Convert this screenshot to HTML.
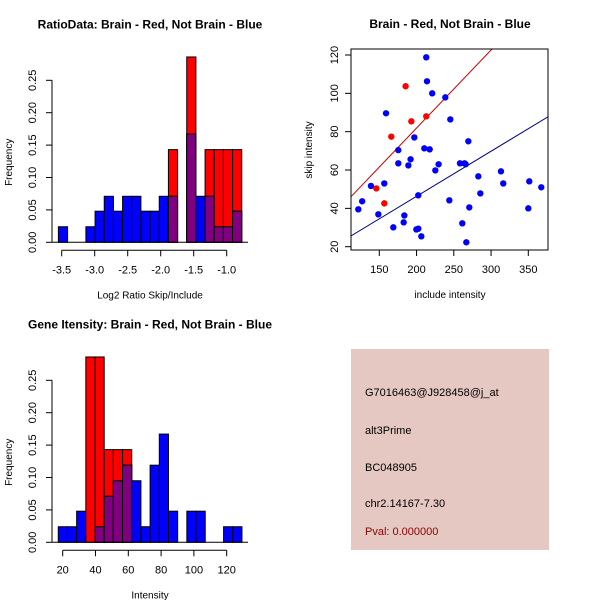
<!DOCTYPE html>
<html><head><meta charset="utf-8"><style>
html,body{margin:0;padding:0;background:#fff}
svg{display:block;font-family:"Liberation Sans",sans-serif}
</style></head><body>
<svg id="s" width="600" height="600" viewBox="0 0 600 600" xmlns="http://www.w3.org/2000/svg">
<rect x="0" y="0" width="600" height="600" fill="#fff"/>
<g>
<rect x="351" y="349" width="198" height="201" fill="#e6c8c2"/>
<text x="365" y="396" font-size="11" fill="#000">G7016463@J928458@j_at</text>
<text x="365" y="434" font-size="11" fill="#000">alt3Prime</text>
<text x="365" y="471" font-size="11" fill="#000">BC048905</text>
<text x="365" y="507" font-size="11" fill="#000">chr2.14167-7.30</text>
<text x="365" y="535" font-size="11" fill="#8b0000">Pval: 0.000000</text>
</g>
</svg>
<script>
// Ratio histogram data
const ratioBinStart = -3.55;
const ratioBinWidth = 0.1389;
const ratioBlue = [0.024,0,0,0.024,0.048,0.071,0.048,0.071,0.071,0.048,0.048,0.071,0.071,0,0.167,0.071,0.071,0.024,0.024,0.048];
const ratioRed  = [0,0,0,0,0,0,0,0,0,0,0,0,0.143,0,0.286,0,0.143,0.143,0.143,0.143];
const ratioXTicks = [-3.5,-3.0,-2.5,-2.0,-1.5,-1.0];
const ratioXLabels = ["-3.5","-3.0","-2.5","-2.0","-1.5","-1.0"];
// Intensity histogram data
const intBinStart = 17.3;
const intBinWidth = 5.6;
const intBlue = [0.024,0.024,0.048,0,0.024,0.071,0.095,0.119,0.095,0.024,0.119,0.167,0.048,0,0.048,0.048,0,0,0.024,0.024];
const intRed  = [0,0,0,0.286,0.286,0.143,0.143,0.143,0,0,0,0,0,0,0,0,0,0,0,0];
const intXTicks = [20,40,60,80,100,120];
const freqTicks = [0,0.05,0.10,0.15,0.20,0.25];
const freqLabels = ["0.00","0.05","0.10","0.15","0.20","0.25"];
// Scatter data
const blueX = [121.8,127,138.8,148.7,156.7,159,168.8,175.5,175.5,182.7,183.6,189,192,197,199.7,202.3,202.3,206.4,210.4,213,214,217.6,221,225.2,229.6,238.6,244,245.3,258.3,261.4,264.5,265.9,266.8,269.5,270.8,282.9,285.6,313.3,316.4,350,351.3,367.4];
const blueY = [39.5,43.7,51.7,36.9,53,89.6,30.1,70.4,63.5,32.7,36.3,62.4,65.6,77,29,29.4,46.8,25.4,71.3,118.8,106.3,70.8,100,59.8,63,97.9,44.2,86.4,63.5,32.2,63.5,63,22.3,75,40.5,56.7,47.8,59.3,53,40,54.1,51];
const redX = [146,156.7,166.1,185.3,193,213];
const redY = [50.4,42.6,77.4,103.7,85.4,88];
const lineSlopes = [0.407,0.235];
const lineIntercepts = [0.5,-0.7];
const scatXTicks = [150,200,250,300,350];
const scatYTicks = [20,40,60,80,100,120];

const NS="http://www.w3.org/2000/svg";
const svg=document.getElementById('s');
function mk(tag,attrs,parent){const e=document.createElementNS(NS,tag);for(const k in attrs)e.setAttribute(k,attrs[k]);(parent||svg).appendChild(e);return e;}
function txt(x,y,s,attrs,parent){const e=mk('text',Object.assign({x:x,y:y,'font-size':11,'text-anchor':'middle',fill:'#000'},attrs||{}),parent);e.textContent=s;return e;}

function histogram(name,oy,binStart,binW,red,blue,xTicks,xLabels,xpx0,xval0,pxPerUnit,title,xlabel){
  const g=mk('g',{});
  
  
  const X=v=>xpx0+(v-xval0)*pxPerUnit;
  const Y=v=>oy-v*648;
  for(let i=0;i<red.length;i++){
    const x0=X(binStart+i*binW),x1=X(binStart+(i+1)*binW);
    const r=red[i],b=blue[i];
    const draw=(h,c,n)=>{const e=mk('rect',{x:x0,y:Y(h),width:x1-x0,height:oy-Y(h),fill:c,stroke:'#000','stroke-width':1},g);
      
      };
    if(r>0) draw(r,'#ff0000','bar-red-'+i);
    if(b>0) draw(b,'#0000ff','bar-blue-'+i);
    if(r>0&&b>0) draw(Math.min(r,b),'#800080','bar-overlap-'+i);
  }
  mk('line',{x1:52,x2:52,y1:Y(0),y2:Y(0.25),stroke:'#000'},g);
  freqTicks.forEach((t,i)=>{mk('line',{x1:46,x2:52,y1:Y(t),y2:Y(t),stroke:'#000'},g);
    const l=txt(36,Y(t),freqLabels[i],{transform:`rotate(-90 36 ${Y(t)})`},g);
    
    });
  mk('line',{x1:52,x2:248,y1:oy,y2:oy,stroke:'#000'},g);
  const ax=oy+8;
  mk('line',{x1:X(xTicks[0]),x2:X(xTicks[xTicks.length-1]),y1:ax,y2:ax,stroke:'#000'},g);
  xTicks.forEach((t,i)=>{mk('line',{x1:X(t),x2:X(t),y1:ax,y2:ax+6,stroke:'#000'},g);
    const l=txt(X(t),ax+23,xLabels[i],{},g);
    
    });
  const t=txt(150,oy-214,title,{'font-weight':'bold','font-size':12},g);
  
  
  const xl=txt(150,oy+56,xlabel,{'font-size':10},g);
  
  
  const yl=txt(12,oy-80,'Frequency',{'font-size':10,transform:`rotate(-90 12 ${oy-80})`},g);
  
  
}
histogram('ratio-histogram',242.3,ratioBinStart,ratioBinWidth,ratioRed,ratioBlue,ratioXTicks,ratioXLabels,61.7,-3.5,66,'RatioData: Brain - Red, Not Brain - Blue','Log2 Ratio Skip/Include');
histogram('intensity-histogram',542.3,intBinStart,intBinWidth,intRed,intBlue,intXTicks,intXTicks.map(String),62.7,20,1.64,'Gene Itensity: Brain - Red, Not Brain - Blue','Intensity');

(function(){
  const g=mk('g',{});
  
  
  const L=351,R=548,T=49,B=250;
  const X=v=>379.3+(v-150)*0.745;
  const Y=v=>55+(120-v)*1.917;
  const cp=mk('clipPath',{id:'clip'},g);mk('rect',{x:L,y:T,width:R-L,height:B-T},cp);
  const cols=['#cc0000','#00008b'];
  lineSlopes.forEach((s,i)=>{const x0=100,x1=400;
    const e=mk('line',{x1:X(x0),y1:Y(lineIntercepts[i]+s*x0),x2:X(x1),y2:Y(lineIntercepts[i]+s*x1),stroke:cols[i],'stroke-width':1,'clip-path':'url(#clip)'},g);
    
    });
  blueX.forEach((x,i)=>{const c=mk('circle',{cx:X(x),cy:Y(blueY[i]),r:3.2,fill:'#0000ff'},g);
    
    });
  redX.forEach((x,i)=>{const c=mk('circle',{cx:X(x),cy:Y(redY[i]),r:3.2,fill:'#ff0000'},g);
    
    });
  mk('rect',{x:L,y:T,width:R-L,height:B-T,fill:'none',stroke:'#000'},g);
  scatXTicks.forEach(t=>{mk('line',{x1:X(t),x2:X(t),y1:B,y2:B+6,stroke:'#000'},g);
    const l=txt(X(t),B+23,String(t),{},g);
    
    });
  scatYTicks.forEach(t=>{mk('line',{x1:L-6,x2:L,y1:Y(t),y2:Y(t),stroke:'#000'},g);
    const l=txt(L-13,Y(t),String(t),{transform:`rotate(-90 ${L-13} ${Y(t)})`},g);
    
    });
  const t=txt(450,28,'Brain - Red, Not Brain - Blue',{'font-weight':'bold','font-size':12},g);
  
  
  const xl=txt(450,298,'include intensity',{'font-size':10},g);
  
  
  const yl=txt(312,150,'skip intensity',{'font-size':10,transform:'rotate(-90 312 150)'},g);
  
  
})();
</script>
</body></html>
